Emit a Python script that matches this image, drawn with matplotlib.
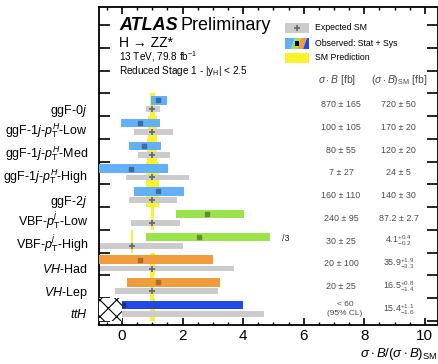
import numpy as np
import matplotlib.pyplot as plt
from matplotlib.patches import Rectangle, Polygon
from matplotlib.ticker import MultipleLocator

plt.rcParams['font.family'] = ['Liberation Sans', 'DejaVu Sans']
plt.rcParams['mathtext.fontset'] = 'custom'
plt.rcParams['mathtext.rm'] = 'Liberation Sans'
plt.rcParams['mathtext.it'] = 'Liberation Sans:italic'
plt.rcParams['mathtext.bf'] = 'Liberation Sans:bold'
plt.rcParams['hatch.linewidth'] = 0.8

# categories, top to bottom
labels = [r'ggF-0$j$', r'ggF-1$j$-$p_{\rm T}^{H}$-Low', r'ggF-1$j$-$p_{\rm T}^{H}$-Med',
          r'ggF-1$j$-$p_{\rm T}^{H}$-High', r'ggF-2$j$', r'VBF-$p_{\rm T}^{j}$-Low',
          r'VBF-$p_{\rm T}^{j}$-High', r'$VH$-Had', r'$VH$-Lep', r'$ttH$']
has_sub = [False, True, True, True, False, True, True, False, False, False]
group = ['ggF', 'ggF', 'ggF', 'ggF', 'ggF', 'VBF', 'VBF', 'VH', 'VH', 'ttH']

# observed sigma*B / SM (VBF-High scaled by 1/3)
obs = [1.20, 0.58, 0.71, 0.30, 1.19, 2.80, 2.53, 0.61, 1.20, 0.02]
obs_lo = [0.97, -0.03, 0.23, -0.83, 0.40, 1.79, 0.78, -2.2, 0.17, 0.0]
obs_hi = [1.47, 1.26, 1.28, 1.52, 2.05, 4.04, 4.89, 3.00, 3.25, 4.00]

# expected SM
exp_c = [1, 1, 1, 1, 1, 1, 0.33, 1, 1, 1]
exp_lo = [0.78, 0.39, 0.53, 0.12, 0.23, 0.30, -1.34, -1.7, -0.23, -0.9]
exp_hi = [1.25, 1.67, 1.58, 2.22, 1.83, 1.93, 2.00, 3.70, 3.17, 4.70]

# SM prediction uncertainty (half width)
sm_hw = [0.08, 0.14, 0.17, 0.21, 0.21, 0.04, 0.025, 0.08, 0.07, 0.08]

obs_txt = ['870 ± 165', '100 ± 105', '80 ± 55', '7 ± 27', '160 ± 110', '240 ± 95',
           '30 ± 25', '20 ± 100', '20 ± 25', '']
sm_txt = ['720 ± 50', '170 ± 20', '120 ± 20', '24 ± 5', '140 ± 30', '87.2 ± 2.7',
          r'$4.1^{+0.4}_{-0.2}$', r'$35.9^{+1.9}_{-3.3}$', r'$16.5^{+0.8}_{-1.4}$',
          r'$15.4^{+1.1}_{-1.6}$']

bar_col = {'ggF': '#62b0f7', 'VBF': '#9be34b', 'VH': '#ee9c3c', 'ttH': '#2049e8'}
mk_col = {'ggF': '#3b6d9e', 'VBF': '#5f8f2f', 'VH': '#a8702f', 'ttH': '#1a2f85'}
yellow = '#fbf22c'
grey = '#cbcbcb'
txtc = '#4a4a4a'

W, H = 439, 364
fig = plt.figure(figsize=(W / 100, H / 100), dpi=100)
ax = fig.add_axes([99 / W, 1 - 325 / H, (438.5 - 99) / W, (325 - 7) / H])
ax.set_xlim(-0.76, 10.45)
ax.set_ylim(-0.18, 13.79)

n = len(labels)
for k in range(n):
    y0 = n - 1 - k
    g = group[k]
    ax.add_patch(Rectangle((exp_c[k] - sm_hw[k], y0), 2 * sm_hw[k], 1,
                           facecolor=yellow, edgecolor='none', zorder=1))
    ax.barh(y0 + 0.30, exp_hi[k] - exp_lo[k], left=exp_lo[k], height=0.25,
            color=grey, zorder=2)
    ax.barh(y0 + 0.69, obs_hi[k] - obs_lo[k], left=obs_lo[k], height=0.37,
            color=bar_col[g], zorder=3)
    ax.plot(obs[k], y0 + 0.69, 's', ms=3.2, color=mk_col[g], zorder=4)
    if g != 'ttH':
        ax.plot(exp_c[k], y0 + 0.30, '+', ms=4.5, mew=1.2, color='#666666', zorder=4)
    ax.text(-1.12, y0 + (0.18 if has_sub[k] else 0.11), labels[k], ha='right',
            va='baseline', fontsize=9, clip_on=False)
    if obs_txt[k]:
        ax.text(7.23, y0 + 0.5, obs_txt[k], ha='center', va='center', fontsize=6.4, color=txtc)
    ax.text(9.13, y0 + 0.5, sm_txt[k], ha='center', va='center', fontsize=6.4, color=txtc)

# ttH upper limit
ax.add_patch(Rectangle((-0.76, 0), 0.76, 1, facecolor='white', edgecolor='black',
                       hatch='xx', lw=0, zorder=5))
ax.text(7.36, 0.72, '< 60', ha='center', va='center', fontsize=6, color=txtc)
ax.text(7.36, 0.32, '(95% CL)', ha='center', va='center', fontsize=6, color=txtc)
ax.text(5.42, 3.64, '/3', ha='center', va='center', fontsize=6.4, color='#222222')

# headers
ax.text(7.1, 10.58, r'$\sigma\cdot B$ [fb]', ha='center', va='center', fontsize=7.5, color=txtc)
ax.text(9.15, 10.58, r'$(\sigma\cdot B)_{\rm SM}$ [fb]', ha='center', va='center',
        fontsize=7.5, color=txtc)

# ATLAS label
ax.text(-0.1, 12.77, 'ATLAS', fontsize=13, fontweight='bold', fontstyle='italic',
        va='baseline')
ax.text(1.92, 12.77, 'Preliminary', fontsize=13, va='baseline')
ax.text(-0.1, 12.04, 'H → ZZ*', fontsize=10, va='baseline')
ax.text(-0.1, 11.46, r'13 TeV, 79.8 fb$^{-1}$', fontsize=7.2, va='baseline')
ax.text(-0.1, 10.85, r'Reduced Stage 1 - |y$_{\rm H}$| < 2.5', fontsize=7.2, va='baseline')


def fx(px):
    return px / W


def fy(py):
    return 1 - py / H


# legend
fig.patches.append(Rectangle((fx(285), fy(33)), 24 / W, 10 / H, facecolor=grey,
                             edgecolor='none', transform=fig.transFigure))
fig.lines.append(plt.Line2D([fx(297)], [fy(28)], marker='+', ms=4.5, mew=1.2,
                            color='#666666', transform=fig.transFigure))
bx0, bx1, by0, by1 = 285, 309, 38, 49
edges = [bx0, 291, 297, 303, bx1]
cols = [bar_col['ggF'], bar_col['VBF'], bar_col['VH'], bar_col['ttH']]
for i in range(4):
    xa, xb = edges[i], edges[i + 1]
    pts = [(xa, by1), (xb, by1), (xb + 4, by0), (xa + 4, by0)]
    if i == 0:
        pts = [(bx0, by1), (xb, by1), (xb + 4, by0), (bx0, by0)]
    if i == 3:
        pts = [(xa, by1), (bx1, by1), (bx1, by0), (xa + 4, by0)]
    fig.patches.append(Polygon([(fx(a), fy(b)) for a, b in pts], closed=True,
                               facecolor=cols[i], edgecolor='none',
                               transform=fig.transFigure))
fig.patches.append(Rectangle((fx(295), fy(45.5)), 4.5 / W, 4.5 / H, facecolor='black',
                             edgecolor='none', transform=fig.transFigure, zorder=5))
fig.patches.append(Rectangle((fx(285), fy(63)), 24 / W, 10 / H, facecolor=yellow,
                             edgecolor='none', transform=fig.transFigure))
fig.text(fx(315), fy(28), 'Expected SM', fontsize=6.3, va='center')
fig.text(fx(315), fy(43.5), 'Observed: Stat + Sys', fontsize=6.3, va='center')
fig.text(fx(315), fy(58), 'SM Prediction', fontsize=6.3, va='center')

# axes style
ax.set_xticks([0, 2, 4, 6, 8, 10])
ax.xaxis.set_minor_locator(MultipleLocator(0.5))
ax.set_yticks(range(14))
ax.tick_params(axis='x', which='major', direction='in', top=True, length=5, width=1.2,
               labelsize=11, pad=3)
ax.tick_params(axis='x', which='minor', direction='in', top=True, length=2.5, width=1)
ax.tick_params(axis='y', direction='in', left=True, right=True, length=8, width=1.2,
               labelleft=False)
for s in ax.spines.values():
    s.set_linewidth(1.3)

fig.text(fx(437), fy(354), r'$\sigma\cdot B/(\sigma\cdot B)_{\rm SM}$', fontsize=9.5,
         va='center', ha='right')

fig.savefig('out.png', dpi=100)
